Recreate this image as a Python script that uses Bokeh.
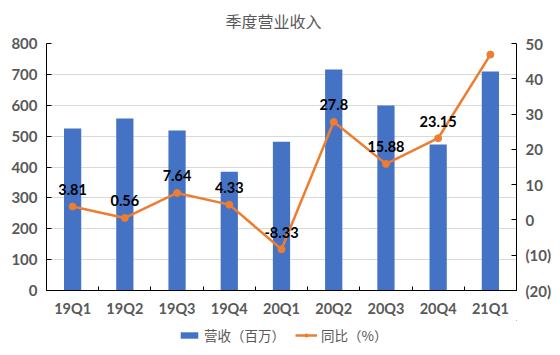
from bokeh.plotting import figure
from bokeh.layouts import column
from bokeh.models import (Range1d, LinearAxis, FixedTicker, ColumnDataSource,
                          LabelSet, Label, Legend, LegendItem)
from bokeh.core.properties import value
from bokeh.embed import file_html
from bokeh.resources import INLINE

quarters = ["19Q1", "19Q2", "19Q3", "19Q4", "20Q1", "20Q2", "20Q3", "20Q4", "21Q1"]
revenue = [525, 557, 518, 385, 482, 716, 599, 473, 709]
yoy = [3.81, 0.56, 7.64, 4.33, -8.33, 27.8, 15.88, 23.15, 46.86]
yoy_labels = ["3.81", "0.56", "7.64", "4.33", "-8.33", "27.8", "15.88", "23.15", "46.86"]
left_ticks = [0, 100, 200, 300, 400, 500, 600, 700, 800]
right_ticks = [-20, -10, 0, 10, 20, 30, 40, 50]
right_tick_labels = ["(20)", "(10)", "0", "10", "20", "30", "40", "50"]
series_names = ["营收（百万）", "同比（%）"]
chart_title = "季度营业收入"

BLUE = "#4472C4"
ORANGE = "#ED7D31"
GRAY = "#595959"
NUM_FONT = "Lato"
CJK_FONT = "Noto Sans CJK SC"

xs = list(range(len(quarters)))
src = ColumnDataSource(dict(x=xs, rev=revenue, yoy=yoy, lab=yoy_labels))


def strip(h):
    f = figure(width=560, height=h, output_backend="svg", toolbar_location=None,
               x_axis_type=None, y_axis_type=None,
               x_range=Range1d(-100, -99), y_range=Range1d(-100, -99),
               min_border=0, min_border_left=0, min_border_right=0,
               min_border_top=0, min_border_bottom=0)
    f.outline_line_color = None
    f.xgrid.grid_line_color = None
    f.ygrid.grid_line_color = None
    return f


# title strip
tt = strip(29)
tt.add_layout(Label(x=227, y=9, x_units="screen", y_units="screen", text=chart_title,
                    text_align="center", text_baseline="middle", text_line_height=1.0,
                    text_font=CJK_FONT, text_font_size="16px", text_color=GRAY))

# main chart
p = figure(width=560, height=291, output_backend="svg", toolbar_location=None,
           x_range=Range1d(-0.5, len(quarters) - 0.5), y_range=Range1d(0, 800),
           min_border_left=46, min_border_right=44, min_border_top=14,
           min_border_bottom=30)
p.extra_y_ranges = {"pct": Range1d(-20, 50)}
p.outline_line_color = None
p.background_fill_color = "white"
p.border_fill_color = "white"

# x axis
xa = p.xaxis[0]
xa.ticker = FixedTicker(ticks=xs, minor_ticks=[i - 0.5 for i in range(len(quarters) + 1)])
xa.major_label_overrides = {i: q for i, q in enumerate(quarters)}
xa.major_tick_in = 0
xa.major_tick_out = 0
xa.minor_tick_in = 4
xa.minor_tick_out = 0
xa.minor_tick_line_color = "black"
xa.axis_line_color = "black"
xa.major_label_text_font = NUM_FONT
xa.major_label_text_font_style = "bold"
xa.major_label_text_font_size = "14.5px"
xa.major_label_text_color = GRAY
xa.major_label_standoff = 9

# left y axis
ya = p.yaxis[0]
ya.ticker = FixedTicker(ticks=left_ticks)
ya.minor_tick_line_color = None
ya.major_tick_in = 5
ya.major_tick_out = 0
ya.axis_line_color = "black"
ya.major_label_text_font = NUM_FONT
ya.major_label_text_font_style = "bold"
ya.major_label_text_font_size = "15px"
ya.major_label_text_color = GRAY
ya.major_label_standoff = 9

# right y axis
ra = LinearAxis(y_range_name="pct", ticker=FixedTicker(ticks=right_ticks))
ra.major_label_overrides = {t: l for t, l in zip(right_ticks, right_tick_labels)}
ra.minor_tick_line_color = None
ra.major_tick_in = 5
ra.major_tick_out = 0
ra.axis_line_color = "black"
ra.major_label_text_font = NUM_FONT
ra.major_label_text_font_style = "bold"
ra.major_label_text_font_size = "15px"
ra.major_label_text_color = GRAY
ra.major_label_standoff = 9
p.add_layout(ra, "right")

p.xgrid.grid_line_color = None
p.ygrid.grid_line_color = "#D9D9D9"
p.ygrid.ticker = FixedTicker(ticks=left_ticks)

p.vbar(x="x", top="rev", width=0.33, source=src, fill_color=BLUE, line_color=None)
p.line(x="x", y="yoy", source=src, y_range_name="pct", line_color=ORANGE, line_width=2.5)
p.scatter(x="x", y="yoy", source=src, y_range_name="pct", size=7,
          fill_color=ORANGE, line_color=ORANGE)

labels = LabelSet(x="x", y="yoy", text="lab", source=src, y_range_name="pct",
                  y_offset=17, text_align="center", text_baseline="middle",
                  text_line_height=1.0,
                  text_font=value(NUM_FONT), text_font_style="bold",
                  text_font_size="14.5px", text_color="black")
p.add_layout(labels)

# legend strip (separate small figure so the legend is not clipped)
lg = strip(35)
b2 = lg.vbar(x="x", top="rev", width=0.3, source=src, fill_color=BLUE, line_color=None)
l2 = lg.line(x="x", y="yoy", source=src, line_color=ORANGE, line_width=2.5)
s2 = lg.scatter(x="x", y="yoy", source=src, size=5, fill_color=ORANGE, line_color=ORANGE)

legend = Legend(items=[LegendItem(label=series_names[0], renderers=[b2]),
                       LegendItem(label=series_names[1], renderers=[l2, s2])],
                orientation="horizontal", location=(132, 10),
                label_text_font=CJK_FONT, label_text_font_size="13.5px",
                label_text_color=GRAY, glyph_width=22, glyph_height=8,
                label_height=16, spacing=10, padding=0, margin=0,
                border_line_color=None, background_fill_alpha=0, label_standoff=4)
lg.add_layout(legend)

layout = column(tt, p, lg, spacing=0)
open("out.html", "w").write(file_html(layout, INLINE))
